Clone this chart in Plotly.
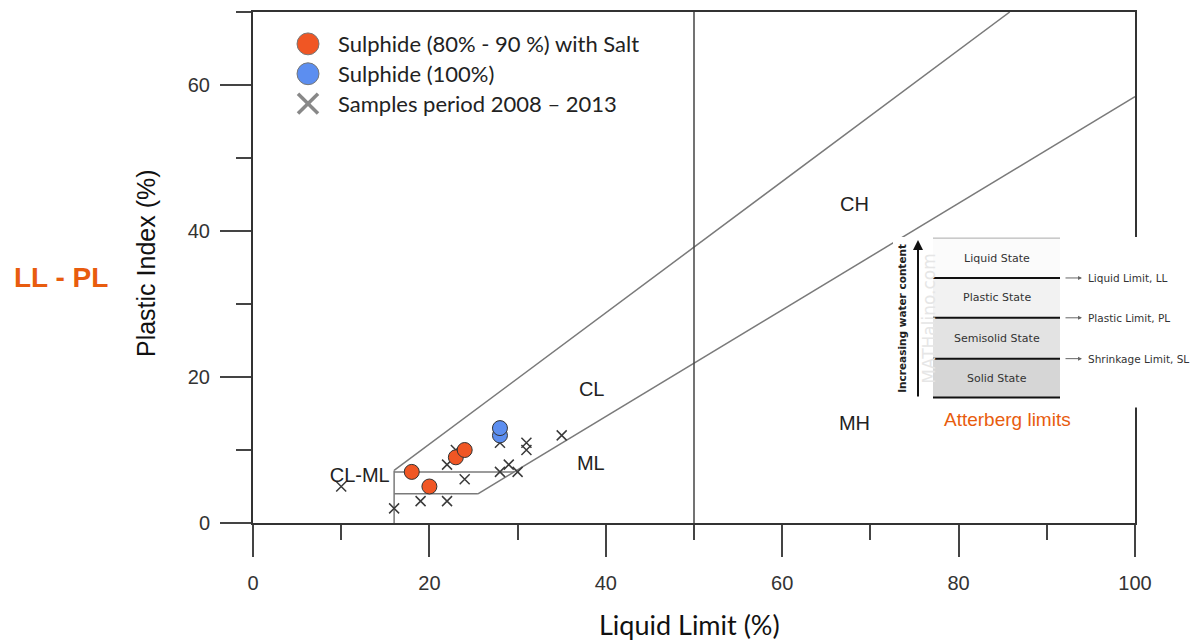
import plotly.graph_objects as go

# ---------------- data ----------------
sulphide_salt_ll = [18, 20, 23, 24]
sulphide_salt_pi = [7, 5, 9, 10]
sulphide_ll = [28, 28]
sulphide_pi = [12, 13]
samples_ll = [10, 16, 19, 22, 22, 23, 24, 28, 28, 29, 30, 31, 31, 35]
samples_pi = [5, 2, 3, 3, 8, 10, 6, 11, 7, 8, 7, 11, 10, 12]

# classification boundary lines (Casagrande chart)
u_line_ll = [16, 85.8]
u_line_pi = [7.2, 70]
a_line_ll = [25.5, 100]
a_line_pi = [4, 58.4]
clml_upper_ll = [16, 29.6]
clml_upper_pi = [7, 7]
clml_lower_ll = [16, 25.5]
clml_lower_pi = [4, 4]
clml_left_ll = [16, 16]
clml_left_pi = [0, 7.2]
ll50_ll = [50, 50]
ll50_pi = [0, 70]

zone_labels = ["CL-ML", "CL", "ML", "CH", "MH"]
zone_ll = [12.1, 38.4, 38.3, 68.2, 68.2]
zone_pi = [6.3, 18.1, 7.9, 43.4, 13.4]

legend_labels = ["Sulphide (80% - 90 %) with Salt", "Sulphide (100%)", "Samples period 2008 \u2013 2013"]
x_ticks = [0, 20, 40, 60, 80, 100]
y_ticks = [0, 20, 40, 60]

inset_states = ["Liquid State", "Plastic State", "Semisolid State", "Solid State"]
inset_limits = ["Liquid Limit, LL", "Plastic Limit, PL", "Shrinkage Limit, SL"]

ORANGE = "rgb(240,86,36)"
BLUE = "rgb(92,142,240)"
TEXT_ORANGE = "rgb(232,92,14)"
ARIAL = "Liberation Sans, Arial, sans-serif"
CALIBRI = "Lato, Carlito, Calibri, sans-serif"
DEJAVU = "DejaVu Sans, sans-serif"

# plot area in pixels
W, H = 1193, 640
L, R, T, B = 253, 1135, 10, 523


def px(x):
    return (x - L) / (R - L)


def py(y):
    return (B - y) / (B - T)


fig = go.Figure()

line_style = dict(color="#7a7a7a", width=1.5)
for xs, ys in [(u_line_ll, u_line_pi), (a_line_ll, a_line_pi),
               (clml_upper_ll, clml_upper_pi), (clml_lower_ll, clml_lower_pi),
               (clml_left_ll, clml_left_pi)]:
    fig.add_trace(go.Scatter(x=xs, y=ys, mode="lines", line=line_style,
                             hoverinfo="skip", showlegend=False))
fig.add_trace(go.Scatter(x=ll50_ll, y=ll50_pi, mode="lines",
                         line=dict(color="#444", width=1.5),
                         hoverinfo="skip", showlegend=False))

fig.add_trace(go.Scatter(x=samples_ll, y=samples_pi, mode="markers",
                         name=legend_labels[2], showlegend=False,
                         marker=dict(symbol="x-thin", size=10,
                                     line=dict(color="#3a3a3a", width=1.5))))
fig.add_trace(go.Scatter(x=sulphide_salt_ll, y=sulphide_salt_pi, mode="markers",
                         name=legend_labels[0], showlegend=False,
                         marker=dict(symbol="circle", size=15, color=ORANGE,
                                     line=dict(color="#333", width=1))))
fig.add_trace(go.Scatter(x=sulphide_ll, y=sulphide_pi, mode="markers",
                         name=legend_labels[1], showlegend=False,
                         marker=dict(symbol="circle", size=15, color=BLUE,
                                     line=dict(color="#333", width=1))))

fig.add_trace(go.Scatter(x=zone_ll, y=zone_pi, mode="text", text=zone_labels,
                         textfont=dict(family=ARIAL, size=20, color="#222"),
                         hoverinfo="skip", showlegend=False))

shapes = []
annotations = []


def note(x, y, text, font, **kw):
    d = dict(xref="paper", yref="paper", x=px(x), y=py(y), text=text,
             showarrow=False, xanchor="center", yanchor="middle", font=font)
    d.update(kw)
    annotations.append(d)


# ---------- manual legend ----------
leg_y = [42, 72, 102]
shapes.append(dict(type="circle", xref="paper", yref="paper",
                   x0=px(297), x1=px(319), y0=py(leg_y[0] + 11), y1=py(leg_y[0] - 11),
                   fillcolor=ORANGE, line=dict(color="#777", width=1)))
shapes.append(dict(type="circle", xref="paper", yref="paper",
                   x0=px(297), x1=px(319), y0=py(leg_y[1] + 11), y1=py(leg_y[1] - 11),
                   fillcolor=BLUE, line=dict(color="#777", width=1)))
for (xa, ya, xb, yb) in [(298, leg_y[2] - 10, 318, leg_y[2] + 10),
                         (298, leg_y[2] + 10, 318, leg_y[2] - 10)]:
    shapes.append(dict(type="line", xref="paper", yref="paper",
                       x0=px(xa), y0=py(ya), x1=px(xb), y1=py(yb),
                       line=dict(color="#888", width=3.5)))
for lab, yy in zip(legend_labels, leg_y):
    note(336, yy, lab, dict(family=CALIBRI, size=22, color="#222"), xanchor="left")

# ---------- Atterberg limits inset ----------
shapes.append(dict(type="rect", xref="paper", yref="paper", layer="above",
                   x0=px(893), x1=px(1193), y0=py(407), y1=py(236),
                   fillcolor="white", line=dict(width=0)))
band_edges = [237, 277, 317, 358, 397]
band_fills = ["#fbfbfb", "#f2f2f2", "#e3e3e3", "#d6d6d6"]
for i, fc in enumerate(band_fills):
    shapes.append(dict(type="rect", xref="paper", yref="paper", layer="above",
                       x0=px(933), x1=px(1060), y0=py(band_edges[i + 1]), y1=py(band_edges[i]),
                       fillcolor=fc, line=dict(width=0)))
shapes.append(dict(type="line", xref="paper", yref="paper", layer="above",
                   x0=px(933), x1=px(1060), y0=py(237), y1=py(237),
                   line=dict(color="#aaa", width=1)))
for e in band_edges[1:]:
    shapes.append(dict(type="line", xref="paper", yref="paper", layer="above",
                       x0=px(933), x1=px(1060), y0=py(e), y1=py(e),
                       line=dict(color="#111", width=2)))
# faint watermark first so the state labels sit on top of it
note(929, 318, "MATHalino.com", dict(family=DEJAVU, size=17, color="#e6e6e6"), textangle=-90)
for i, s in enumerate(inset_states):
    yc = (band_edges[i] + band_edges[i + 1]) / 2
    note(997, yc, s, dict(family=DEJAVU, size=11, color="#333"))
for lab, e in zip(inset_limits, band_edges[1:4]):
    annotations.append(dict(xref="paper", yref="paper", x=px(1082), y=py(e),
                            ax=-18, ay=0, showarrow=True, text="",
                            arrowhead=2, arrowsize=0.8, arrowwidth=1, arrowcolor="#666"))
    note(1086, e, lab, dict(family=DEJAVU, size=10.5, color="#333"), xanchor="left")
annotations.append(dict(xref="paper", yref="paper", x=px(918), y=py(239),
                        ax=0, ay=158, showarrow=True, text="",
                        arrowhead=2, arrowsize=1, arrowwidth=2, arrowcolor="#111"))
note(902, 318, "<b>Increasing water content</b>",
     dict(family=DEJAVU, size=10.5, color="#222"), textangle=-90)
note(1007, 419, "Atterberg limits", dict(family=ARIAL, size=19, color=TEXT_ORANGE))

# ---------- LL - PL note ----------
note(61, 277, "<b>LL - PL</b>", dict(family=ARIAL, size=28, color=TEXT_ORANGE))

# axis titles
note(146, 262, "Plastic Index (%)", dict(family=ARIAL, size=25, color="#111"), textangle=-90)
note(689, 625, "Liquid Limit (%)", dict(family=CALIBRI, size=27, color="#111"))

axis_common = dict(showgrid=False, zeroline=False, showline=True, mirror=True,
                   linecolor="#333", linewidth=2, ticks="outside", tickcolor="#444",
                   tickwidth=1.5, tickfont=dict(family=ARIAL, size=20, color="#333"))

fig.update_layout(
    width=W, height=H,
    margin=dict(l=L, r=W - R, t=T, b=H - B, pad=0),
    paper_bgcolor="white", plot_bgcolor="white",
    showlegend=False,
    shapes=shapes, annotations=annotations,
    xaxis=dict(range=[0, 100], tickvals=x_ticks, ticklen=32, ticklabelstandoff=9,
               minor=dict(dtick=10, ticklen=15, tickwidth=1.5, tickcolor="#444", ticks="outside"),
               **axis_common),
    yaxis=dict(range=[0, 70], tickvals=y_ticks, ticklen=31, ticklabelstandoff=6,
               minor=dict(dtick=10, ticklen=15, tickwidth=1.5, tickcolor="#444", ticks="outside"),
               **axis_common),
)

fig.write_html("out.html")
